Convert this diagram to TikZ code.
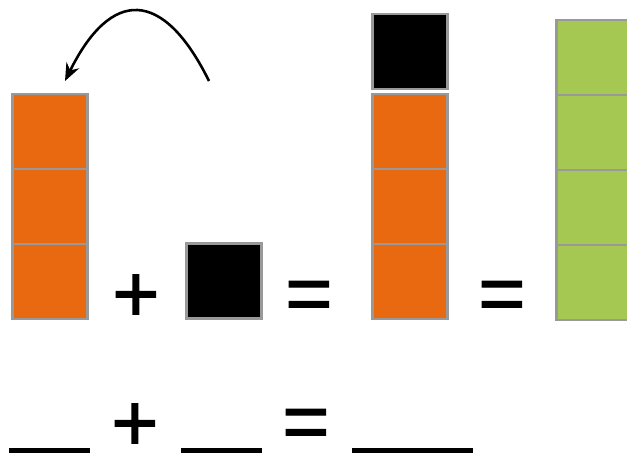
\documentclass[tikz,border=0pt]{standalone}
\usepackage{fontspec}
\setmainfont{Liberation Sans}
\newfontfamily\signfont{Liberation Sans}[RawFeature={embolden=1.5}]
\usetikzlibrary{positioning, arrows.meta}
\definecolor{cellorange}{HTML}{E8690F}
\definecolor{cellgreen}{HTML}{A4C852}
\definecolor{cellborder}{HTML}{999999}
\tikzstyle{cell} = [rectangle, minimum size=2.25cm, inner sep=0pt, outer sep=0pt, draw=cellborder, line width=2.5pt]
\tikzstyle{ocell} = [cell, fill=cellorange]
\tikzstyle{gcell} = [cell, fill=cellgreen]
\tikzstyle{bcell} = [cell, fill=black]
\tikzstyle{sign} = [inner sep=0pt, font=\signfont\fontsize{69}{69}\selectfont]
\tikzstyle{blank} = [line width=4.3pt]
\tikzstyle{arrow} = [line width=2.2pt, -{Stealth[length=15pt, width=12pt]}]
\begin{document}
\begin{tikzpicture}[x=0.03cm, y=-0.03cm]
\useasboundingbox (0,0) rectangle (627,458);

% First tower
\node (a1) [ocell] at (50,281.5) {};
\node (a2) [ocell, above=0pt of a1] {};
\node (a3) [ocell, above=0pt of a2] {};

% Plus one
\node (p1) [sign] at (136,298) {+};
\node (b1) [bcell] at (224,281) {};
\node (e1) [sign] at (309,301) {=};

% Second tower
\node (m1) [ocell] at (410,281.5) {};
\node (m2) [ocell, above=0pt of m1] {};
\node (m3) [ocell, above=0pt of m2] {};
\node (m4) [bcell, above=0.15cm of m3] {};

\node (e2) [sign] at (502,301) {=};

% Green tower
\node (g1) [gcell] at (594,282.5) {};
\node (g2) [gcell, above=0pt of g1] {};
\node (g3) [gcell, above=0pt of g2] {};
\node (g4) [gcell, above=0pt of g3] {};

% Arrow
\coordinate (from) at (209,81);
\coordinate (to) at (65,81);
\draw [arrow] (from) .. controls (163,-12) and (111,-12) .. (to);

% Blanks
\coordinate (l1a) at (9,450.5);
\coordinate (l1b) at (90,450.5);
\coordinate (l2a) at (181,450.5);
\coordinate (l2b) at (262,450.5);
\coordinate (l3a) at (352,450.5);
\coordinate (l3b) at (473,450.5);
\node (p2) [sign] at (135,427) {+};
\node (e3) [sign] at (306,429) {=};
\draw [blank] (l1a) -- (l1b);
\draw [blank] (l2a) -- (l2b);
\draw [blank] (l3a) -- (l3b);

\end{tikzpicture}
\end{document}
